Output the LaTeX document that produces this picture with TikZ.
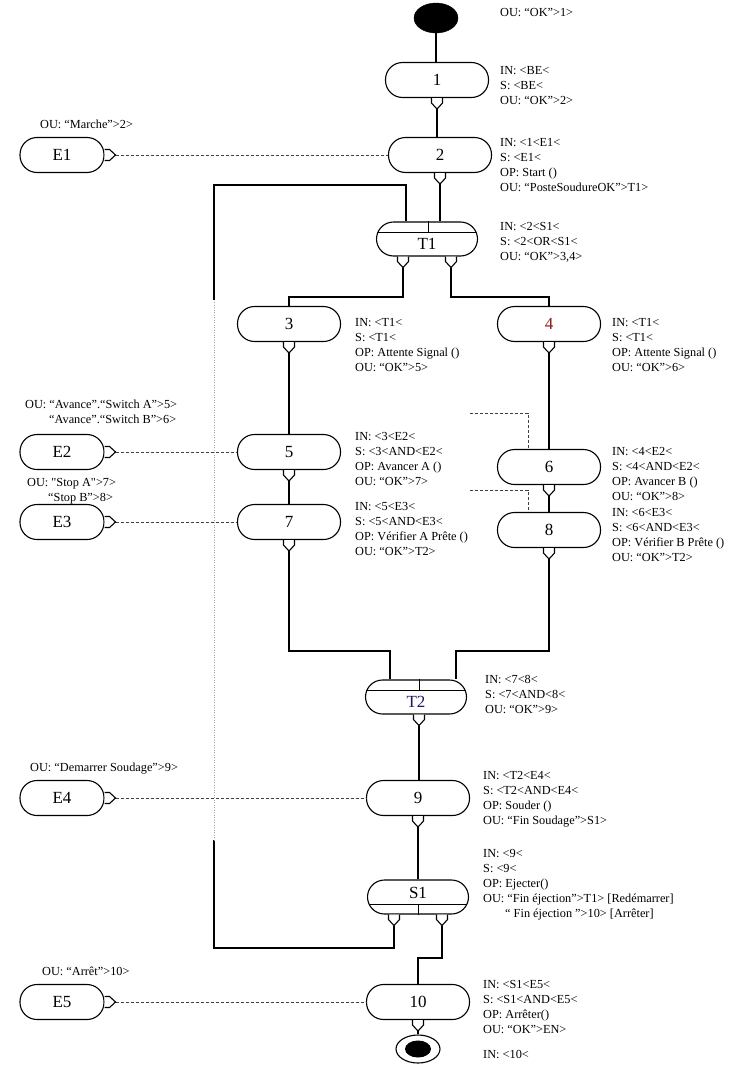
\documentclass[tikz,border=0pt]{standalone}
\usepackage{fontspec}
\setmainfont{Liberation Serif}
\usetikzlibrary{calc,shapes.geometric}
\tikzset{
  st/.style={draw, line width=1.1pt, rounded corners=17pt, minimum width=103pt, minimum height=35pt, inner sep=0pt, font=\fontsize{17}{17}\selectfont},
  ev/.style={st, minimum width=84pt},
  tr/.style={st, minimum width=101pt, minimum height=34pt},
  lowtext/.style={text height=21pt, text depth=0pt},
  hightext/.style={text height=11.5pt, text depth=8.5pt},
  lbl/.style={anchor=north west, align=left, inner sep=0pt, font=\fontsize{12.3}{15}\selectfont},
  wire/.style={line width=1.1pt},
  thinsep/.style={line width=0.6pt},
  evline/.style={line width=0.8pt, dash pattern=on 3pt off 2pt, black!75},
  faint/.style={line width=0.5pt, dotted, black!35},
  startdot/.style={ellipse, draw, fill=black, minimum width=44pt, minimum height=30pt, inner sep=0pt},
  endring/.style={ellipse, draw, line width=1.1pt, fill=white, minimum width=44pt, minimum height=28pt, inner sep=0pt},
  enddot/.style={ellipse, fill=black, minimum width=26pt, minimum height=17pt, inner sep=0pt}
}
% down port: #1 attach point (on node bottom), #2 name of tip
\newcommand\dport[2]{%
  \draw[wire, fill=white] ($(#1)+(-5.5,0)$) -- ++(0,5) -- ++(5.5,6) -- ++(5.5,-6) -- ++(0,-5);
  \coordinate (#2) at ($(#1)+(0,11)$);}
% right port: #1 attach point (on node east), #2 name of tip
\newcommand\rport[2]{%
  \draw[wire, fill=white] ($(#1)+(0,-5.5)$) -- ++(5,0) -- ++(6,5.5) -- ++(-6,5.5) -- ++(-5,0);
  \coordinate (#2) at ($(#1)+(11,0)$);}
\newcommand\lab[4]{\node[lbl] (#1) at (#2,#3) {#4};}
\begin{document}
\begin{tikzpicture}[x=1pt,y=-1pt]
\path[use as bounding box, fill=white] (0,0) rectangle (740,1068);

% ---------- main nodes ----------
\node[startdot] (s0) at (436,18) {};
\node[st] (n1) at (437,80) {1};
\node[st] (n2) at (440,155) {2};
\node[tr, lowtext] (T1) at (427,239) {T1};
\node[st] (n3) at (289,324) {3};
\node[st] (n4) at (549,324) {\textcolor[rgb]{0.55,0.1,0.1}{4}};
\node[st] (n5) at (289,452) {5};
\node[st] (n6) at (549,467) {6};
\node[st] (n7) at (289,522) {7};
\node[st] (n8) at (549,530) {8};
\node[tr, lowtext] (T2) at (416,697) {\textcolor[rgb]{0.1,0.1,0.4}{T2}};
\node[st] (n9) at (418,798) {9};
\node[tr, hightext] (S1) at (418,897) {S1};
\node[st] (n10) at (418,1002) {10};
\node[endring] (e0) at (418,1049) {};
\node[enddot] (e0i) at (418,1049) {};

% ---------- event nodes ----------
\node[ev] (E1) at (62,155) {E1};
\node[ev] (E2) at (62,452) {E2};
\node[ev] (E3) at (62,522) {E3};
\node[ev] (E4) at (62,798) {E4};
\node[ev] (E5) at (62,1002) {E5};

% ---------- dividers in T1, T2, S1 ----------
\draw[thinsep] ($(T1.north west)+(2,11)$) -- ($(T1.north east)+(-2,11)$);
\draw[thinsep] ($(T1.north)+(1,0)$) -- ($(T1.north)+(1,11)$);
\draw[thinsep] ($(T2.north west)+(2,11)$) -- ($(T2.north east)+(-2,11)$);
\draw[thinsep] ($(T2.north)+(3,0)$) -- ($(T2.north)+(3,11)$);
\draw[thinsep] ($(S1.south west)+(2,-10)$) -- ($(S1.south east)+(-2,-10)$);
\draw[thinsep] ($(S1.south)+(0,-10)$) -- (S1.south);

% ---------- ports ----------
\dport{n1.south}{p1}
\dport{n2.south}{p2}
\coordinate (t1oa) at ($(T1.south)+(-24,0)$);
\coordinate (t1ob) at ($(T1.south)+(24,0)$);
\dport{t1oa}{pT1a}
\dport{t1ob}{pT1b}
\dport{n3.south}{p3}
\dport{n4.south}{p4}
\dport{n5.south}{p5}
\dport{n6.south}{p6}
\dport{n7.south}{p7}
\dport{n8.south}{p8}
\coordinate (t2o) at ($(T2.south)+(3,0)$);
\dport{t2o}{pT2}
\dport{n9.south}{p9}
\coordinate (s1oa) at ($(S1.south)+(-24,0)$);
\coordinate (s1ob) at ($(S1.south)+(24,0)$);
\dport{s1oa}{pS1a}
\dport{s1ob}{pS1b}
\dport{n10.south}{p10}
\rport{E1.east}{pE1}
\rport{E2.east}{pE2}
\rport{E3.east}{pE3}
\rport{E4.east}{pE4}
\rport{E5.east}{pE5}

% ---------- routing coordinates ----------
\coordinate (t1in1) at ($(T1.north)+(-21,0)$);
\coordinate (t1in2) at (p2 |- T1.north);
\coordinate (brY) at (0,297);
\coordinate (joinY) at (0,651);
\coordinate (t2in1) at ($(T2.north)+(-26,0)$);
\coordinate (t2in2) at ($(T2.north)+(40,0)$);
\coordinate (lpT) at (214,185);
\coordinate (lpM2) at (214,300);
\coordinate (lpM1) at (214,840);
\coordinate (lpB) at (214,948);
\coordinate (r10Y) at (0,958);
\coordinate (d1) at (470,413);
\coordinate (d2) at (470,490);

% ---------- control flow ----------
\draw[wire] (s0) -- (s0 |- n1.north);
\draw[wire] (p1) -- (p1 |- n2.north);
\draw[wire] (p2) -- (t1in2);
\draw[wire] (pT1a) |- (brY -| n3.north) -- (n3.north);
\draw[wire] (pT1b) |- (brY -| n4.north) -- (n4.north);
\draw[wire] (p3) -- (p3 |- n5.north);
\draw[wire] (p4) -- (p4 |- n6.north);
\draw[wire] (p5) -- (p5 |- n7.north);
\draw[wire] (p6) -- (p6 |- n8.north);
\draw[wire] (p7) |- (joinY -| t2in1) -- (t2in1);
\draw[wire] (p8) |- (joinY -| t2in2) -- (t2in2);
\draw[wire] (pT2) -- (pT2 |- n9.north);
\draw[wire] (p9) -- (p9 |- S1.north);
\draw[wire] (pS1b) |- (r10Y -| n10.north) -- (n10.north);
\draw[wire] (p10) -- (e0.north);
% loop back S1 -> T1
\draw[wire] (pS1a) |- (lpB) -- (lpM1);
\draw[faint] (lpM1) -- (lpM2);
\draw[wire] (lpM2) -- (lpT) -| (t1in1);

% ---------- event links ----------
\draw[evline] (pE1) -- (n2.west);
\draw[evline] (pE2) -- (n5.west);
\draw[evline] (pE3) -- (n7.west);
\draw[evline] (pE4) -- (n9.west);
\draw[evline] (pE5) -- (n10.west);
\draw[evline] (d1) -| ($(n6.north west)+(31,0)$);
\draw[evline] (d2) -| ($(n8.north west)+(31,0)$);

% ---------- annotations ----------
\lab{ls0}{500}{8}{OU: “OK”>1>}
\lab{l1}{500}{66}{IN: <BE<\\S: <BE<\\OU: “OK”>2>}
\lab{l2}{500}{138}{IN: <1<E1<\\S: <E1<\\OP: Start ()\\OU: “PosteSoudureOK”>T1>}
\lab{lT1}{500}{222}{IN: <2<S1<\\S: <2<OR<S1<\\OU: “OK”>3,4>}
\lab{l3}{355}{318}{IN: <T1<\\S: <T1<\\OP: Attente Signal ()\\OU: “OK”>5>}
\lab{l4}{612}{318}{IN: <T1<\\S: <T1<\\OP: Attente Signal ()\\OU: “OK”>6>}
\lab{l5}{355}{432}{IN: <3<E2<\\S: <3<AND<E2<\\OP: Avancer A ()\\OU: “OK”>7>}
\lab{l6}{612}{447}{IN: <4<E2<\\S: <4<AND<E2<\\OP: Avancer B ()\\OU: “OK”>8>}
\lab{l7}{355}{502}{IN: <5<E3<\\S: <5<AND<E3<\\OP: Vérifier A Prête ()\\OU: “OK”>T2>}
\lab{l8}{612}{508}{IN: <6<E3<\\S: <6<AND<E3<\\OP: Vérifier B Prête ()\\OU: “OK”>T2>}
\lab{lT2}{485}{675}{IN: <7<8<\\S: <7<AND<8<\\OU: “OK”>9>}
\lab{l9}{483}{771}{IN: <T2<E4<\\S: <T2<AND<E4<\\OP: Souder ()\\OU: “Fin Soudage”>S1>}
\lab{lS1}{483}{849}{IN: <9<\\S: <9<\\OP: Ejecter()\\OU: “Fin éjection”>T1> [Redémarrer]}
\lab{lS1b}{505}{909}{“ Fin éjection ”>10> [Arrêter]}
\lab{l10}{483}{980}{IN: <S1<E5<\\S: <S1<AND<E5<\\OP: Arrêter()\\OU: “OK”>EN>}
\lab{le0}{483}{1050}{IN: <10<}
\lab{lE1}{40}{120}{OU: “Marche”>2>}
\lab{lE2a}{25}{400}{OU: “Avance”.“Switch A”>5>}
\lab{lE2b}{49}{415}{“Avance”.“Switch B”>6>}
\lab{lE3a}{27}{478}{OU: \textquotedbl Stop A\textquotedbl>7>}
\lab{lE3b}{48}{493}{“Stop B”>8>}
\lab{lE4}{30}{763}{OU: “Demarrer Soudage”>9>}
\lab{lE5}{42}{967}{OU: “Arrêt”>10>}
\end{tikzpicture}
\end{document}
